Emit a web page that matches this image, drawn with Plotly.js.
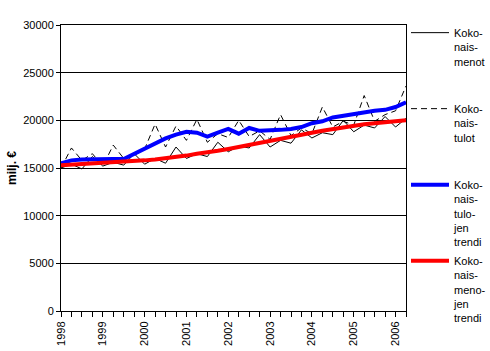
<!DOCTYPE html>
<html><head><meta charset="utf-8">
<script src="https://cdn.plot.ly/plotly-3.0.1.min.js"></script>
<style>html,body{margin:0;padding:0;background:#fff}#chart{width:490px;height:351px}</style>
</head><body><div id="chart"></div>
<script>
const quarters = ["1998Q1","1998Q2","1998Q3","1998Q4","1999Q1","1999Q2","1999Q3","1999Q4",
  "2000Q1","2000Q2","2000Q3","2000Q4","2001Q1","2001Q2","2001Q3","2001Q4",
  "2002Q1","2002Q2","2002Q3","2002Q4","2003Q1","2003Q2","2003Q3","2003Q4",
  "2004Q1","2004Q2","2004Q3","2004Q4","2005Q1","2005Q2","2005Q3","2005Q4",
  "2006Q1","2006Q2"];
const menot = [15000,15400,14900,16200, 15200,15600,15300,16500,
  15400,16000,15500,17200, 16000,16500,16200,17700,
  16700,17300,17100,18500, 17200,17900,17600,19000,
  18150,18700,18500,20000, 18800,19500,19200,20400,
  19300,20200];
const tulot = [15000,17100,15800,16500, 15200,17400,16000,16300,
  17000,19600,17200,19400, 17900,20100,17700,18600,
  18200,20000,18300,18900, 18000,20600,18400,19200,
  18600,21400,19300,19900, 19500,22600,19900,20600,
  21000,23600];
const tulotTrendi = [15500,15800,15900,15950, 15950,15950,15950,16500,
  17100,17600,18100,18500, 18800,18700,18300,18700,
  19100,18600,19200,18900, 18900,19000,19100,19300,
  19700,19900,20300,20500, 20700,20800,21000,21100,
  21400,21900];
const menotTrendi = [15300,15350,15400,15450, 15500,15550,15600,15700,
  15800,15900,16000,16100, 16300,16500,16600,16800,
  17000,17200,17400,17600, 17800,18000,18200,18400,
  18700,18900,19100,19300, 19500,19600,19700,19800,
  19900,20000];
const seriesNames = [
  "Koko-<br>nais-<br>menot<br>&nbsp;<br>&nbsp;",
  "Koko-<br>nais-<br>tulot<br>&nbsp;<br>&nbsp;",
  "Koko-<br>nais-<br>tulo-<br>jen<br>trendi",
  "Koko-<br>nais-<br>meno-<br>jen<br>trendi"
];
const yTitle = "milj. €";

const tickText = quarters.map(q => q.endsWith("Q1") ? q.slice(0,4) : "");

const traces = [
  {x: quarters, y: menot, name: seriesNames[0], type: "scatter", mode: "lines",
   line: {color: "#000000", width: 1}},
  {x: quarters, y: tulot, name: seriesNames[1], type: "scatter", mode: "lines",
   line: {color: "#000000", width: 1, dash: "6px,4px"}},
  {x: quarters, y: tulotTrendi, name: seriesNames[2], type: "scatter", mode: "lines",
   line: {color: "#0000FF", width: 4}},
  {x: quarters, y: menotTrendi, name: seriesNames[3], type: "scatter", mode: "lines",
   line: {color: "#FF0000", width: 4}}
];
traces.forEach((t, i) => { t.legendgroup = "g" + i; });

const font = {family: "Liberation Sans, Arial, sans-serif", size: 11, color: "#000"};
const layout = {
  width: 490, height: 351,
  margin: {l: 61, r: 83, t: 25, b: 40, pad: 0},
  paper_bgcolor: "#fff", plot_bgcolor: "#fff",
  font: font,
  showlegend: true,
  legend: {xref: "container", yref: "container", x: 406/490, y: 1 - 19/351,
    xanchor: "left", yanchor: "top", valign: "top", maxheight: 345,
    font: font, tracegroupgap: 1.5, bgcolor: "rgba(0,0,0,0)", borderwidth: 0,
    itemwidth: 38},
  xaxis: {type: "category", range: [0, quarters.length - 1],
    tickmode: "array", tickvals: quarters, ticktext: tickText,
    tickangle: -90, ticks: "outside", ticklen: 5, tickcolor: "#000", tickwidth: 1,
    showline: true, linecolor: "#000", linewidth: 1, mirror: true,
    showgrid: false, zeroline: false, automargin: false, tickfont: font},
  yaxis: {range: [0, 30000], dtick: 5000, tick0: 0, tickformat: "d",
    ticks: "outside", ticklen: 4, tickcolor: "#000", tickwidth: 1,
    showline: true, linecolor: "#000", linewidth: 1, mirror: true,
    showgrid: true, gridcolor: "#000", gridwidth: 1, zeroline: false,
    automargin: false, tickfont: font,
    title: {text: yTitle, standoff: 4, font: {family: "Liberation Sans, Arial, sans-serif", size: 12, color: "#000", weight: "bold"}}}
};
Plotly.newPlot("chart", traces, layout, {displayModeBar: false, staticPlot: true});
</script></body></html>
